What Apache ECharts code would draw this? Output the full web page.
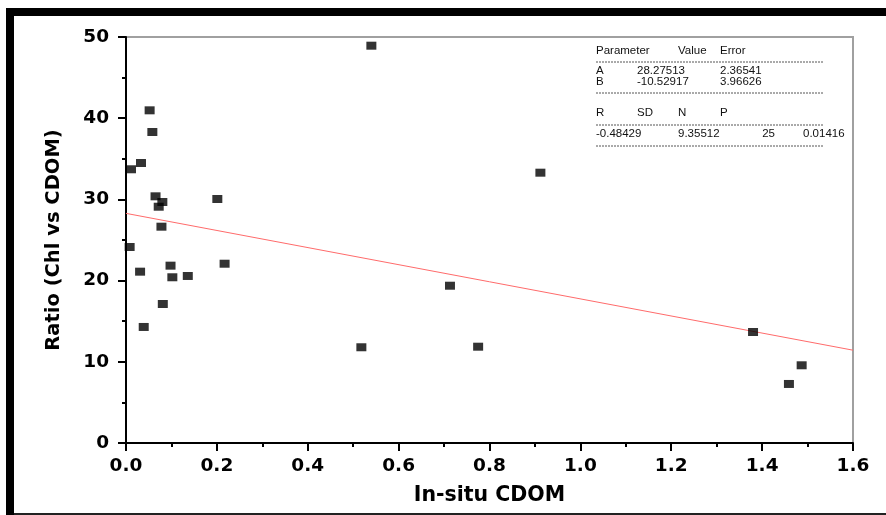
<!DOCTYPE html>
<html>
<head>
<meta charset="utf-8">
<script src="https://cdn.jsdelivr.net/npm/echarts@6/dist/echarts.min.js"></script>
<style>
html,body{margin:0;padding:0;background:#fff;}
#chart{width:886px;height:515px;}
</style>
</head>
<body>
<div id="chart"></div>
<script>
// In-situ CDOM (x) values
var cdom = [0.052, 0.058, 0.033, 0.011, 0.065, 0.080, 0.072, 0.201, 0.078, 0.008,
            0.098, 0.031, 0.102, 0.136, 0.217, 0.081, 0.039, 0.540, 0.912, 0.713,
            0.518, 0.775, 1.380, 1.487, 1.459];
// Ratio (Chl vs CDOM) values
var ratio = [40.97, 38.30, 34.48, 33.71, 30.38, 29.68, 29.10, 30.05, 26.64, 24.14,
             21.84, 21.10, 20.41, 20.57, 22.08, 17.12, 14.29, 48.93, 33.29, 19.37,
             11.79, 11.86, 13.67, 9.57, 7.27];
// Linear fit line endpoints (A + B*x)
var fitX = [0, 1.6];
var fitY = [28.28, 11.43];
// Fit statistics table
var statHeader1 = ['Parameter', 'Value', 'Error'];
var statRowA = ['A', '28.27513', '2.36541'];
var statRowB = ['B', '-10.52917', '3.96626'];
var statHeader2 = ['R', 'SD', 'N', 'P'];
var statRow2 = ['-0.48429', '9.35512', '25', '0.01416'];
var xTicks = {min: 0, max: 1.6, interval: 0.2};
var yTicks = {min: 0, max: 50, interval: 10};

var pts = cdom.map(function (x, i) { return [x, ratio[i]]; });
var fit = fitX.map(function (x, i) { return [x, fitY[i]]; });

var chart = echarts.init(document.getElementById('chart'));
var tf = {fontFamily: 'Liberation Sans', fontSize: 11.5, fill: '#111'};
function txt(s, x, y, align) {
  return {type: 'text', x: x, y: y, style: Object.assign({text: s, align: align || 'left', verticalAlign: 'middle'}, tf), silent: true};
}
function dash(y) {
  return {type: 'line', shape: {x1: 596, y1: y, x2: 824, y2: y}, style: {stroke: '#555', lineWidth: 1, lineDash: [2, 1]}, silent: true};
}
var g = [];
// frame
g.push({type: 'rect', shape: {x: 6, y: 8, width: 880, height: 8}, style: {fill: '#000'}, silent: true});
g.push({type: 'rect', shape: {x: 6, y: 8, width: 8, height: 507}, style: {fill: '#000'}, silent: true});
g.push({type: 'rect', shape: {x: 14, y: 513, width: 872, height: 2}, style: {fill: '#222'}, silent: true});
// table
g.push(txt(statHeader1[0], 596, 51));
g.push(txt(statHeader1[1], 678, 51));
g.push(txt(statHeader1[2], 720, 51));
g.push(dash(62));
g.push(txt(statRowA[0], 596, 71));
g.push(txt(statRowA[1], 637, 71));
g.push(txt(statRowA[2], 720, 71));
g.push(txt(statRowB[0], 596, 82));
g.push(txt(statRowB[1], 637, 82));
g.push(txt(statRowB[2], 720, 82));
g.push(dash(93));
g.push(txt(statHeader2[0], 596, 113));
g.push(txt(statHeader2[1], 637, 113));
g.push(txt(statHeader2[2], 678, 113));
g.push(txt(statHeader2[3], 720, 113));
g.push(dash(125));
g.push(txt(statRow2[0], 596, 134));
g.push(txt(statRow2[1], 678, 134));
g.push(txt(statRow2[2], 775, 134, 'right'));
g.push(txt(statRow2[3], 803, 134));
g.push(dash(146));

var labelFont = {fontFamily: 'DejaVu Sans', fontWeight: 'bold', fontSize: 18.5, color: '#000'};
chart.setOption({
  animation: false,
  backgroundColor: '#fff',
  grid: {left: 126, right: 33, top: 37, bottom: 72, show: true, borderColor: '#a0a0a0', borderWidth: 2, backgroundColor: 'transparent'},
  xAxis: {
    type: 'value', min: xTicks.min, max: xTicks.max, interval: xTicks.interval,
    name: 'In-situ CDOM', nameLocation: 'middle', nameGap: 42,
    nameTextStyle: {fontFamily: 'DejaVu Sans', fontWeight: 'bold', fontSize: 20.5, color: '#000'},
    axisLine: {show: true, onZero: false, lineStyle: {color: '#000', width: 2}},
    axisTick: {show: true, inside: false, length: 8, lineStyle: {color: '#000', width: 2}},
    minorTick: {show: true, splitNumber: 2, length: 4, lineStyle: {color: '#000', width: 2}},
    splitLine: {show: false},
    axisLabel: Object.assign({margin: 14, formatter: function (v) { return v.toFixed(1); }}, labelFont)
  },
  yAxis: {
    type: 'value', min: yTicks.min, max: yTicks.max, interval: yTicks.interval,
    name: 'Ratio (Chl vs CDOM)', nameLocation: 'middle', nameGap: 62,
    nameTextStyle: {fontFamily: 'DejaVu Sans', fontWeight: 'bold', fontSize: 19.5, color: '#000'},
    axisLine: {show: true, onZero: false, lineStyle: {color: '#000', width: 2}},
    axisTick: {show: true, inside: false, length: 8, lineStyle: {color: '#000', width: 2}},
    minorTick: {show: true, splitNumber: 2, length: 4, lineStyle: {color: '#000', width: 2}},
    splitLine: {show: false},
    axisLabel: Object.assign({margin: 17}, labelFont)
  },
  series: [
    {
      type: 'line', data: fit, symbol: 'none', silent: true, z: 1,
      lineStyle: {color: '#ff6b6b', width: 1}
    },
    {
      type: 'scatter', data: pts, symbol: 'rect', symbolSize: [10, 8], z: 2,
      itemStyle: {color: '#000'}
    }
  ],
  graphic: g
});
</script>
</body>
</html>
